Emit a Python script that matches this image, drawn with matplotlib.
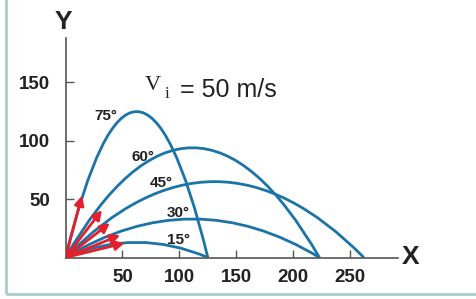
import matplotlib.pyplot as plt
from matplotlib.path import Path
from matplotlib.patches import PathPatch, FancyArrowPatch, Rectangle

plt.rcParams["font.family"] = ["Liberation Sans", "DejaVu Sans"]

# launch angles (deg), landing distance and peak height
angles = [15, 30, 45, 60, 75]
ranges = [125, 223, 262, 223, 125]
heights = [13, 33, 65, 94, 125]

# arrow tips (velocity vectors) at launch
arrow_x = [52, 48, 39, 32, 14.5]
arrow_y = [12.4, 19.2, 29.5, 40.6, 53]

# angle label positions
label_x = [99, 99, 84, 68, 35.5]
label_y = [15, 38, 64, 86, 121]

x_ticks = [50, 100, 150, 200, 250]
y_ticks = [50, 100, 150]

curve_col = "#1b74a8"
arrow_col = "#e3202c"

fig = plt.figure(figsize=(4.76, 2.99), dpi=100)
fig.patch.set_facecolor("white")

# light teal frame
fig.patches.append(Rectangle((6 / 476, 5 / 299), 1.2, 1.2, transform=fig.transFigure,
                             fill=False, edgecolor="#a9cccc", lw=2.0, zorder=0))

ax = fig.add_axes([65.5 / 476, 41.5 / 299, 332.5 / 476, 219.5 / 299])
ax.set_xlim(0, 292)
ax.set_ylim(0, 188)

# trajectories as parabolas (quadratic bezier through the peak)
for r, h in zip(ranges, heights):
    path = Path([(0, 0), (r / 2, 2 * h), (r, 0)],
                [Path.MOVETO, Path.CURVE3, Path.CURVE3])
    ax.add_patch(PathPatch(path, fill=False, edgecolor=curve_col, lw=2.0, zorder=2))

for ax_, ay in zip(arrow_x, arrow_y):
    ax.add_patch(FancyArrowPatch((0, 0), (ax_, ay), arrowstyle="-|>",
                                 mutation_scale=14, color=arrow_col, lw=2.0,
                                 shrinkA=0, shrinkB=0, zorder=3))

for a, lx, ly in zip(angles, label_x, label_y):
    ax.text(lx, ly, f"{a}°", ha="center", va="center", fontsize=11,
            fontweight="bold", color="#222222")

# spines and ticks
for s in ["top", "right"]:
    ax.spines[s].set_visible(False)
for s in ["left", "bottom"]:
    ax.spines[s].set_color("#555555")
    ax.spines[s].set_linewidth(1.2)
ax.set_xticks(x_ticks)
ax.set_yticks(y_ticks)
ax.tick_params(direction="in", length=6, width=1.0, color="#555555",
               labelsize=13.5, labelcolor="#222222")
ax.tick_params(axis="y", pad=11)
ax.tick_params(axis="x", pad=8)
for lab in ax.get_xticklabels() + ax.get_yticklabels():
    lab.set_fontweight("bold")

# axis names
fig.text(63 / 476, 1 - 22 / 299, "Y", ha="center", va="center",
         fontsize=19, fontweight="bold", color="#222222")
fig.text(411 / 476, 1 - 257.5 / 299, "X", ha="center", va="center",
         fontsize=19, fontweight="bold", color="#222222")

# initial speed: serif V with subscript i, then sans text
fig.text(145 / 476, 1 - 90 / 299, "V", ha="left", va="baseline",
         fontsize=16, color="#222222", family="Liberation Serif")
fig.text(165 / 476, 1 - 98 / 299, "i", ha="left", va="baseline",
         fontsize=12.5, color="#222222", family="Liberation Serif")
fig.text(180 / 476, 1 - 97 / 299, "= 50 m/s", ha="left", va="baseline",
         fontsize=18, color="#222222")

fig.savefig("out.png", dpi=100)
